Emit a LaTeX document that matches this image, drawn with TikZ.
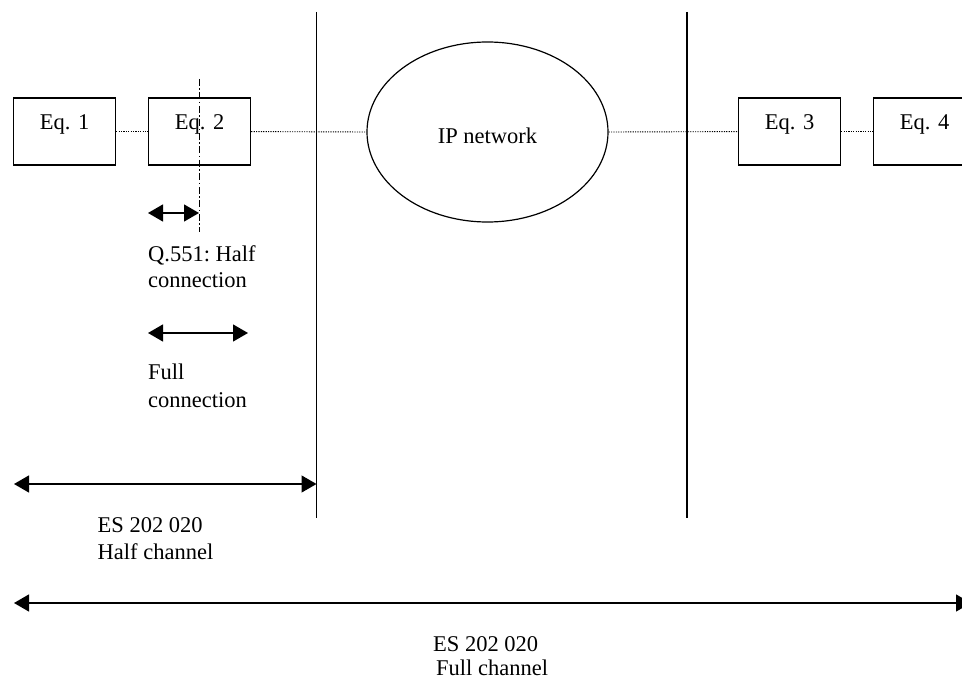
\documentclass[tikz,border=0pt]{standalone}
\usepackage{fontspec}
\setmainfont{Liberation Serif}
\frenchspacing
\usetikzlibrary{arrows.meta,shapes.geometric}
\tikzset{
  eqbox/.style={draw,line width=1.2pt,inner sep=0pt,anchor=north west,text width=102pt,align=center,
    text height=31pt,text depth=36pt},
  link/.style={line width=0.9pt,dash pattern=on 1.2pt off 1.2pt},
  wall/.style={line width=1.4pt},
  span/.style={line width=1.3pt,{Triangle[length=15pt,width=17pt]}-{Triangle[length=15pt,width=17pt]}},
  lbl/.style={anchor=base west,inner sep=0pt,align=left,font=\fontsize{22.5pt}{27pt}\selectfont}
}
\begin{document}
\begin{tikzpicture}[x=1pt,y=-1pt,font=\fontsize{22.5pt}{27pt}\selectfont]
\useasboundingbox (0,0) rectangle (962,679);
% walls
\coordinate (v1t) at (316.5,12);
\coordinate (v1b) at (316.5,518);
\coordinate (v2t) at (687,12);
\coordinate (v2b) at (687,518);
\draw[wall] (v1t) -- (v1b);
\draw[wall] (v2t) -- (v2b);
% equipment
\node[eqbox] (e1) at (13,97.5) {Eq. 1};
\node[eqbox] (e2) at (148,97.5) {Eq. 2};
\node[eqbox] (e3) at (738,97.5) {Eq. 3};
\node[eqbox] (e4) at (873,97.5) {Eq. 4};
\node[draw,ellipse,line width=1.2pt,minimum width=241pt,minimum height=180pt,inner sep=0pt,
  text height=24pt,text depth=0pt] (ip) at (487.5,132) {IP network};
% dotted links
\draw[link] (e1.east) -- (e2.west);
\draw[link] (e2.east) -- (ip.west);
\draw[link] (ip.east) -- (e3.west);
\draw[link] (e3.east) -- (e4.west);
% half connection reference
\coordinate (dt) at (199,79);
\coordinate (db) at (199,232);
\draw[line width=1pt,dash pattern=on 7pt off 2.5pt on 1.5pt off 2.5pt] (dt) -- (db);
\coordinate (hcl) at (148,213);
\coordinate (hcr) at (199,213);
\draw[span] (hcl) -- (hcr);
\node[lbl] (hct) at (148,288) {Q.551: Half\\[-0.5pt]connection};
\coordinate (fcl) at (148,333);
\coordinate (fcr) at (248,333);
\draw[span] (fcl) -- (fcr);
\node[lbl] (fct) at (148,407) {Full\\[0.5pt]connection};
% channels
\coordinate (hl) at (14,484);
\draw[span] (hl) -- (v1t |- hl);
\node[lbl] (hch) at (97.5,559) {ES 202 020\\Half channel};
\coordinate (fl) at (14,603);
\coordinate (fr) at (971,603);
\draw[span] (fl) -- (fr);
\node[lbl] (fch1) at (433,651) {ES 202 020};
\node[lbl] (fch2) at (436,675) {Full channel};
\end{tikzpicture}
\end{document}
